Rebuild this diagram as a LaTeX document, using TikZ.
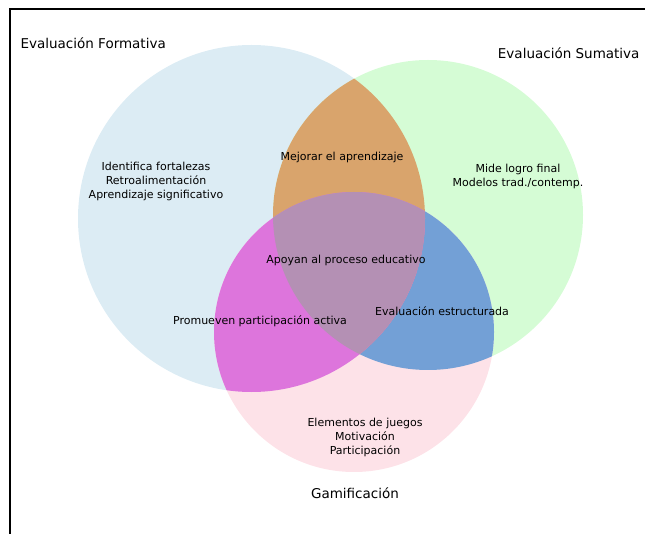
\documentclass[tikz,border=0pt]{standalone}
\usepackage{fontspec}
\setmainfont{DejaVu Sans}
\definecolor{formcol}{RGB}{220,236,244}
\definecolor{sumcol}{RGB}{213,252,213}
\definecolor{gamcol}{RGB}{253,226,232}
\definecolor{fscol}{RGB}{217,164,108}
\definecolor{fgcol}{RGB}{221,117,220}
\definecolor{sgcol}{RGB}{115,160,214}
\definecolor{fsgcol}{RGB}{180,144,180}
\tikzset{
  ttl/.style={font=\fontsize{13.5}{16}\selectfont},
  lbl/.style={font=\fontsize{11}{14}\selectfont, align=center}
}

\begin{document}
\begin{tikzpicture}[x=1pt,y=-1pt]
    \pgfmathsetmacro{\xf}{251.5}
    \pgfmathsetmacro{\yf}{218.5}
    \pgfmathsetmacro{\rf}{173.5}
    \pgfmathsetmacro{\xs}{428}
    \pgfmathsetmacro{\ys}{215}
    \pgfmathsetmacro{\rs}{155}
    \pgfmathsetmacro{\xg}{354}
    \pgfmathsetmacro{\yg}{332}
    \pgfmathsetmacro{\rg}{140}
    \useasboundingbox (0,0) rectangle (645,534);
    \fill[formcol] (\xf,\yf) circle (\rf pt);
    \fill[sumcol] (\xs,\ys) circle (\rs pt);
    \fill[gamcol] (\xg,\yg) circle (\rg pt);
    \begin{scope}
      \clip (\xs,\ys) circle (\rs pt);
      \fill[sgcol] (\xg,\yg) circle (\rg pt);
    \end{scope}
    \begin{scope}
      \clip (\xf,\yf) circle (\rf pt);
      \fill[fscol] (\xs,\ys) circle (\rs pt);
      \fill[fgcol] (\xg,\yg) circle (\rg pt);
      \clip (\xs,\ys) circle (\rs pt);
      \fill[fsgcol] (\xg,\yg) circle (\rg pt);
    \end{scope}
    \draw[line width=1.6pt] (10,534)--(10,9)--(645,9);
    \node[ttl, anchor=west] (tform) at (17,43) {Evaluación Formativa};
    \node[ttl, anchor=east] (tsum) at (643,53) {Evaluación Sumativa};
    \node[ttl] (tgam) at (355,493) {Gamificación};
    \node[lbl] (form) at (156,181) {Identifica fortalezas\\Retroalimentación\\Aprendizaje significativo};
    \node[lbl] (sum) at (518,176) {Mide logro final\\Modelos trad./contemp.};
    \node[lbl] (gam) at (365,437) {Elementos de juegos\\Motivación\\Participación};
    \node[lbl] (fs) at (342,157) {Mejorar el aprendizaje};
    \node[lbl] (fg) at (260,321) {Promueven participación activa};
    \node[lbl] (sg) at (442,311) {Evaluación estructurada};
    \node[lbl] (fsg) at (346,260) {Apoyan al proceso educativo};
  \end{tikzpicture}
\end{document}
